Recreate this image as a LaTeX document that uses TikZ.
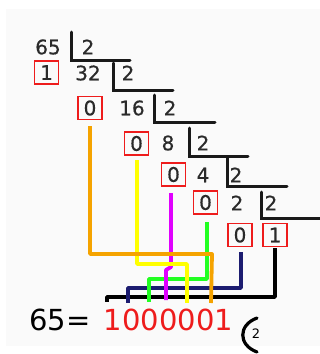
\documentclass[tikz,border=0pt]{standalone}
\usepackage{fontspec}
\setmainfont{DejaVu Sans}
\newfontfamily\numfont[FakeBold=0.6]{DejaVu Sans}
\definecolor{numgray}{HTML}{2A2A2A}
\definecolor{boxred}{HTML}{EE1C1C}
\definecolor{lorange}{HTML}{F5A300}
\definecolor{lyellow}{HTML}{FFFF00}
\definecolor{lmagenta}{HTML}{E000FF}
\definecolor{lgreen}{HTML}{22FF22}
\definecolor{lnavy}{HTML}{1C1C70}
\definecolor{bg}{HTML}{FAFAFA}
\begin{document}
\begin{tikzpicture}[x=1pt,y=-1pt,
  num/.style={inner sep=0pt, text=numgray, font=\numfont\fontsize{20}{24}\selectfont},
  bit/.style={num, draw=boxred, line width=1.6pt, minimum width=24pt, minimum height=23pt},
  bracket/.style={draw=black!90, line width=3pt, line cap=round},
  link/.style={line width=3.8pt, line join=round},
  big/.style={inner sep=0pt, font=\fontsize{29}{34}\selectfont}]
\useasboundingbox (0,0) rectangle (320,354);
\fill[bg] (6,9) rectangle (320,346);
% row 1
\node[num] (n65) at (48,47) {65};
\node[num] (d1) at (88,47) {2};
\coordinate (v1a) at (71,32); \coordinate (v1b) at (71,60); \coordinate (h1) at (130,60);
\draw[bracket] (v1a) -- (v1b) -- (h1);
% row 2
\node[bit] (b1) at (46.5,72.5) {1};
\node[num] (n32) at (88,73) {32};
\node[num] (d2) at (128,73) {2};
\coordinate (v2a) at (113,63); \coordinate (v2b) at (113,90); \coordinate (h2) at (173,90);
\draw[bracket] (v2a) -- (v2b) -- (h2);
% row 3
\node[bit] (b2) at (90,108) {0};
\node[num] (n16) at (132,108) {16};
\node[num] (d3) at (170,108) {2};
\coordinate (v3a) at (154,95); \coordinate (v3b) at (154,122); \coordinate (h3) at (215,122);
\draw[bracket] (v3a) -- (v3b) -- (h3);
% row 4
\node[bit] (b3) at (136.5,143.5) {0};
\node[num] (n8) at (168,143) {8};
\node[num] (d4) at (203,143) {2};
\coordinate (v4a) at (189,128); \coordinate (v4b) at (189,156); \coordinate (h4) at (248,156);
\draw[bracket] (v4a) -- (v4b) -- (h4);
% row 5
\node[bit] (b4) at (173.5,174.5) {0};
\node[num] (n4) at (203,175) {4};
\node[num] (d5) at (236,175) {2};
\coordinate (v5a) at (227,158); \coordinate (v5b) at (227,186); \coordinate (h5) at (287,186);
\draw[bracket] (v5a) -- (v5b) -- (h5);
% row 6
\node[bit] (b5) at (205.5,202.5) {0};
\node[num] (n2) at (237,203) {2};
\node[num] (d6) at (271,203) {2};
\coordinate (v6a) at (261,192); \coordinate (v6b) at (261,218); \coordinate (h6) at (320,218);
\draw[bracket] (v6a) -- (v6b) -- (h6);
% row 7
\node[bit] (b6) at (240,235) {0};
\node[bit] (b7) at (275,235) {1};
% result
\node[big, text=black] (eq) at (60,320) {65=};
\node[big, text=boxred] (res) at (168.5,320) {1000001};
% coloured links
\draw[link, black] (275,248) -- (275,297) -- (107,297) -- (107,302);
\draw[link, lnavy] (241,252) -- (241,288) -- (128,288) -- (128,303);
\draw[link, lgreen] (207,222) -- (207,279) -- (149,279) -- (149,302);
\draw[link, lmagenta] (171,193) -- (171,267) -- (166,270) -- (166,300);
\draw[link, lyellow] (137,160) -- (137,264) -- (187,264) -- (187,303);
\draw[link, lorange] (90,126) -- (90,254) -- (212,254) -- (211,303);
% base mark
\draw[line width=3.2pt, line cap=round] (257,318) .. controls (238,325) and (238,345) .. (257,352);
\node[inner sep=0pt, font=\fontsize{13}{15}\selectfont] (base) at (256,334) {2};
\end{tikzpicture}
\end{document}
